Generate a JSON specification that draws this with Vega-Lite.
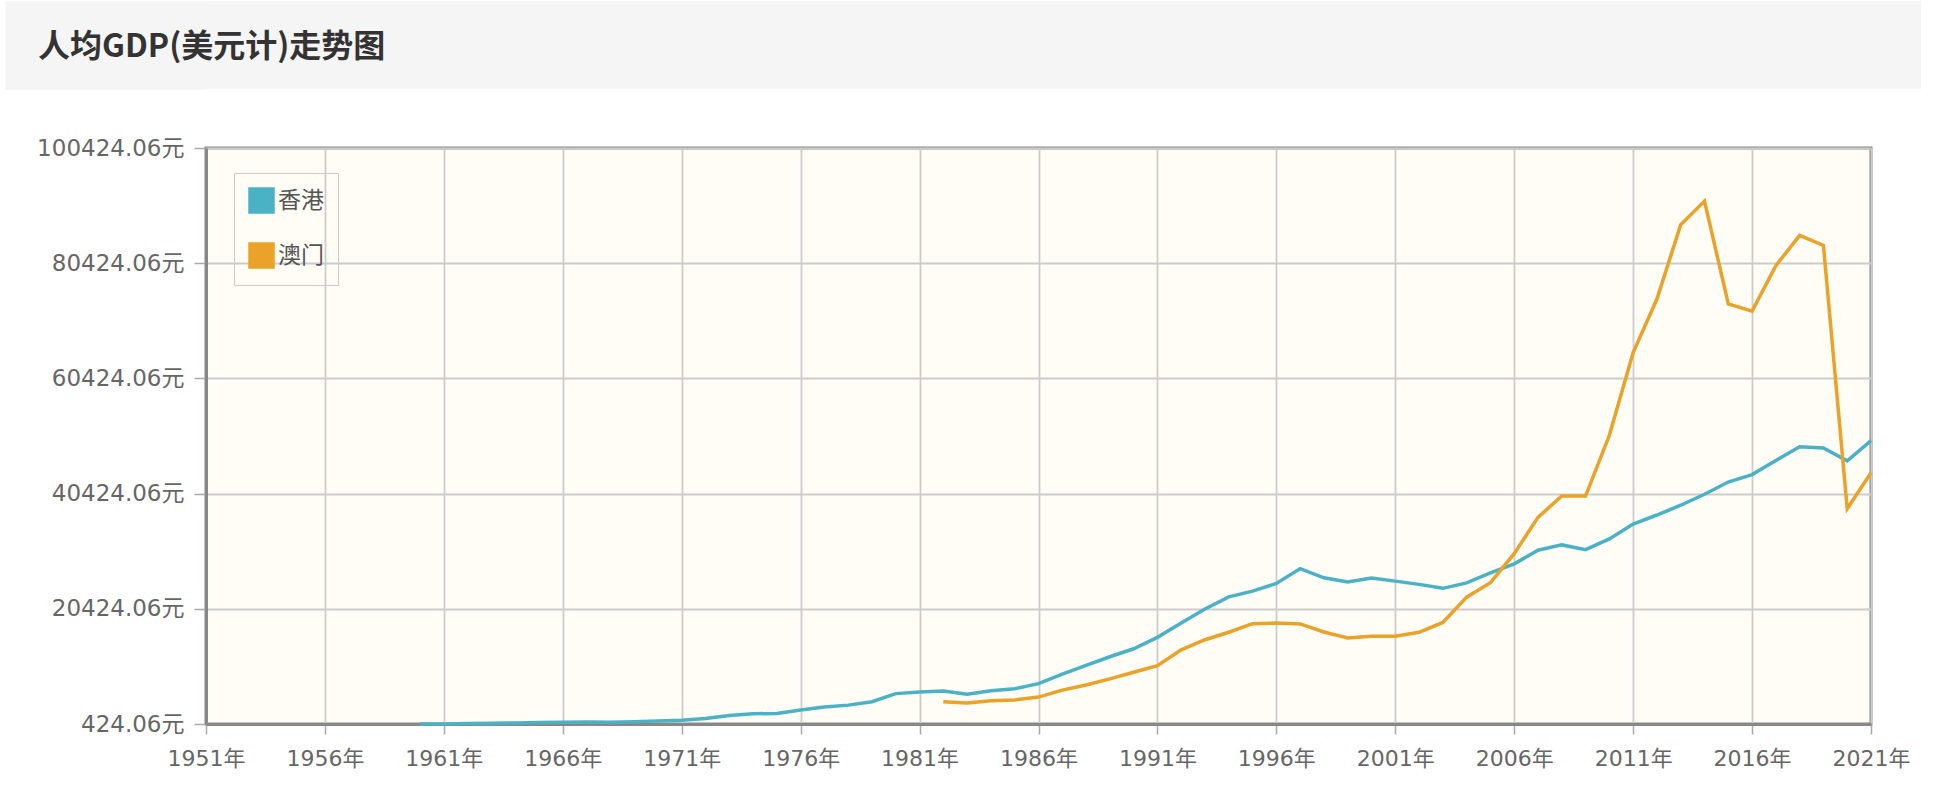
{
  "$schema": "https://vega.github.io/schema/vega-lite/v6.json",
  "padding": {"left": 0, "top": 0, "right": 0, "bottom": 0},
  "background": "white",
  "spacing": 45,
  "vconcat": [
    {
      "width": 1715,
      "height": 88,
      "view": {"fill": "#f5f5f5", "stroke": null},
      "title": {
        "text": "人均GDP(美元计)走势图",
        "anchor": "start",
        "frame": "group",
        "orient": "top",
        "offset": -78,
        "dx": -168,
        "baseline": "middle",
        "font": "Noto Sans CJK SC",
        "fontSize": 32,
        "fontWeight": "bold",
        "color": "#333333"
      },
      "data": {"values": []},
      "mark": {"type": "point"},
      "encoding": {
        "y": {
          "field": "band",
          "type": "quantitative",
          "scale": {"domain": [0, 88], "nice": false, "zero": false},
          "axis": {
            "title": null,
            "values": [4, 12, 20, 28, 36, 44, 52, 60, 68, 76, 84],
            "labels": false,
            "domain": false,
            "grid": false,
            "ticks": true,
            "tickSize": 201,
            "tickWidth": 8.4,
            "tickColor": "#f5f5f5",
            "tickCap": "butt",
            "tickRound": false,
            "minExtent": 201,
            "maxExtent": 201
          }
        }
      }
    },
    {
      "width": 1665,
      "height": 576,
      "view": {"fill": "#fffdf6", "stroke": "#888888", "strokeWidth": 3},
      "data": {
        "values": [
          {"year": 1960, "region": "香港", "gdp": 429},
          {"year": 1961, "region": "香港", "gdp": 445},
          {"year": 1962, "region": "香港", "gdp": 500},
          {"year": 1963, "region": "香港", "gdp": 568},
          {"year": 1964, "region": "香港", "gdp": 616},
          {"year": 1965, "region": "香港", "gdp": 678},
          {"year": 1966, "region": "香港", "gdp": 710},
          {"year": 1967, "region": "香港", "gdp": 758},
          {"year": 1968, "region": "香港", "gdp": 719},
          {"year": 1969, "region": "香港", "gdp": 826},
          {"year": 1970, "region": "香港", "gdp": 925},
          {"year": 1971, "region": "香港", "gdp": 1071},
          {"year": 1972, "region": "香港", "gdp": 1370},
          {"year": 1973, "region": "香港", "gdp": 1893},
          {"year": 1974, "region": "香港", "gdp": 2204},
          {"year": 1975, "region": "香港", "gdp": 2255},
          {"year": 1976, "region": "香港", "gdp": 2857},
          {"year": 1977, "region": "香港", "gdp": 3384},
          {"year": 1978, "region": "香港", "gdp": 3701},
          {"year": 1979, "region": "香港", "gdp": 4286},
          {"year": 1980, "region": "香港", "gdp": 5700},
          {"year": 1981, "region": "香港", "gdp": 5991},
          {"year": 1982, "region": "香港", "gdp": 6134},
          {"year": 1983, "region": "香港", "gdp": 5595},
          {"year": 1984, "region": "香港", "gdp": 6208},
          {"year": 1985, "region": "香港", "gdp": 6543},
          {"year": 1986, "region": "香港", "gdp": 7435},
          {"year": 1987, "region": "香港", "gdp": 9071},
          {"year": 1988, "region": "香港", "gdp": 10610},
          {"year": 1989, "region": "香港", "gdp": 12098},
          {"year": 1990, "region": "香港", "gdp": 13486},
          {"year": 1991, "region": "香港", "gdp": 15466},
          {"year": 1992, "region": "香港", "gdp": 17976},
          {"year": 1993, "region": "香港", "gdp": 20396},
          {"year": 1994, "region": "香港", "gdp": 22503},
          {"year": 1995, "region": "香港", "gdp": 23497},
          {"year": 1996, "region": "香港", "gdp": 24818},
          {"year": 1997, "region": "香港", "gdp": 27400},
          {"year": 1998, "region": "香港", "gdp": 25809},
          {"year": 1999, "region": "香港", "gdp": 25092},
          {"year": 2000, "region": "香港", "gdp": 25757},
          {"year": 2001, "region": "香港", "gdp": 25230},
          {"year": 2002, "region": "香港", "gdp": 24666},
          {"year": 2003, "region": "香港", "gdp": 23977},
          {"year": 2004, "region": "香港", "gdp": 24928},
          {"year": 2005, "region": "香港", "gdp": 26650},
          {"year": 2006, "region": "香港", "gdp": 28224},
          {"year": 2007, "region": "香港", "gdp": 30594},
          {"year": 2008, "region": "香港", "gdp": 31516},
          {"year": 2009, "region": "香港", "gdp": 30697},
          {"year": 2010, "region": "香港", "gdp": 32550},
          {"year": 2011, "region": "香港", "gdp": 35142},
          {"year": 2012, "region": "香港", "gdp": 36708},
          {"year": 2013, "region": "香港", "gdp": 38404},
          {"year": 2014, "region": "香港", "gdp": 40315},
          {"year": 2015, "region": "香港", "gdp": 42432},
          {"year": 2016, "region": "香港", "gdp": 43731},
          {"year": 2017, "region": "香港", "gdp": 46166},
          {"year": 2018, "region": "香港", "gdp": 48543},
          {"year": 2019, "region": "香港", "gdp": 48356},
          {"year": 2020, "region": "香港", "gdp": 46109},
          {"year": 2021, "region": "香港", "gdp": 49613},
          {"year": 1982, "region": "澳门", "gdp": 4300},
          {"year": 1983, "region": "澳门", "gdp": 4050},
          {"year": 1984, "region": "澳门", "gdp": 4480},
          {"year": 1985, "region": "澳门", "gdp": 4600},
          {"year": 1986, "region": "澳门", "gdp": 5100},
          {"year": 1987, "region": "澳门", "gdp": 6300},
          {"year": 1988, "region": "澳门", "gdp": 7200},
          {"year": 1989, "region": "澳门", "gdp": 8250},
          {"year": 1990, "region": "澳门", "gdp": 9400},
          {"year": 1991, "region": "澳门", "gdp": 10550},
          {"year": 1992, "region": "澳门", "gdp": 13300},
          {"year": 1993, "region": "澳门", "gdp": 15050},
          {"year": 1994, "region": "澳门", "gdp": 16350},
          {"year": 1995, "region": "澳门", "gdp": 17850},
          {"year": 1996, "region": "澳门", "gdp": 17950},
          {"year": 1997, "region": "澳门", "gdp": 17800},
          {"year": 1998, "region": "澳门", "gdp": 16400},
          {"year": 1999, "region": "澳门", "gdp": 15350},
          {"year": 2000, "region": "澳门", "gdp": 15650},
          {"year": 2001, "region": "澳门", "gdp": 15650},
          {"year": 2002, "region": "澳门", "gdp": 16350},
          {"year": 2003, "region": "澳门", "gdp": 18050},
          {"year": 2004, "region": "澳门", "gdp": 22450},
          {"year": 2005, "region": "澳门", "gdp": 24950},
          {"year": 2006, "region": "澳门", "gdp": 30000},
          {"year": 2007, "region": "澳门", "gdp": 36300},
          {"year": 2008, "region": "澳门", "gdp": 40000},
          {"year": 2009, "region": "澳门", "gdp": 40000},
          {"year": 2010, "region": "澳门", "gdp": 50550},
          {"year": 2011, "region": "澳门", "gdp": 64900},
          {"year": 2012, "region": "澳门", "gdp": 74200},
          {"year": 2013, "region": "澳门", "gdp": 87100},
          {"year": 2014, "region": "澳门", "gdp": 91200},
          {"year": 2015, "region": "澳门", "gdp": 73350},
          {"year": 2016, "region": "澳门", "gdp": 72100},
          {"year": 2017, "region": "澳门", "gdp": 80000},
          {"year": 2018, "region": "澳门", "gdp": 85250},
          {"year": 2019, "region": "澳门", "gdp": 83500},
          {"year": 2020, "region": "澳门", "gdp": 37800},
          {"year": 2021, "region": "澳门", "gdp": 44050}
        ]
      },
      "mark": {"type": "line", "strokeWidth": 3.5},
      "encoding": {
        "x": {
          "field": "year",
          "type": "quantitative",
          "scale": {"domain": [1951, 2021], "nice": false, "zero": false},
          "axis": {
            "title": null,
            "values": [1951, 1956, 1961, 1966, 1971, 1976, 1981, 1986, 1991, 1996, 2001, 2006, 2011, 2016, 2021],
            "labelExpr": "datum.value + '年'",
            "grid": true,
            "gridColor": "#cccccc",
            "gridWidth": 1.8,
            "domainColor": "#888888",
            "domainWidth": 3,
            "tickColor": "#aaaaaa",
            "tickSize": 10,
            "tickWidth": 1.5,
            "labelFont": "DejaVu Sans, Noto Sans CJK SC",
            "labelFontSize": 22,
            "labelColor": "#666666",
            "labelPadding": 14,
            "labelOverlap": false,
            "labelFlush": false
          }
        },
        "y": {
          "field": "gdp",
          "type": "quantitative",
          "scale": {"domain": [424.06, 100424.06], "nice": false, "zero": false},
          "axis": {
            "title": null,
            "values": [424.06, 20424.06, 40424.06, 60424.06, 80424.06, 100424.06],
            "labelExpr": "format(datum.value, '.2f') + '元'",
            "grid": true,
            "gridColor": "#cccccc",
            "gridWidth": 1.8,
            "domainColor": "#888888",
            "domainWidth": 3,
            "tickColor": "#aaaaaa",
            "tickSize": 12,
            "tickWidth": 1.5,
            "labelFont": "DejaVu Sans, Noto Sans CJK SC",
            "labelFontSize": 23,
            "labelColor": "#666666",
            "labelPadding": 10,
            "labelOverlap": false,
            "labelFlush": false,
            "minExtent": 201
          }
        },
        "color": {
          "field": "region",
          "type": "nominal",
          "scale": {"domain": ["香港", "澳门"], "range": ["#4bb2c5", "#eaa228"]},
          "legend": {
            "title": null,
            "orient": "none",
            "legendX": 28,
            "legendY": 172,
            "symbolType": "square",
            "symbolSize": 625,
            "symbolStrokeWidth": 1.5,
            "labelFont": "Noto Sans CJK SC",
            "labelFontSize": 23,
            "labelColor": "#555555",
            "labelOffset": 3,
            "strokeColor": "#cccccc",
            "padding": 14,
            "rowPadding": 24,
            "encode": {
              "symbols": {
                "update": {
                  "fill": {"scale": "color", "field": "value"},
                  "stroke": {"value": "#d6d6d6"},
                  "opacity": {"value": 1}
                }
              }
            }
          }
        }
      }
    }
  ]
}
